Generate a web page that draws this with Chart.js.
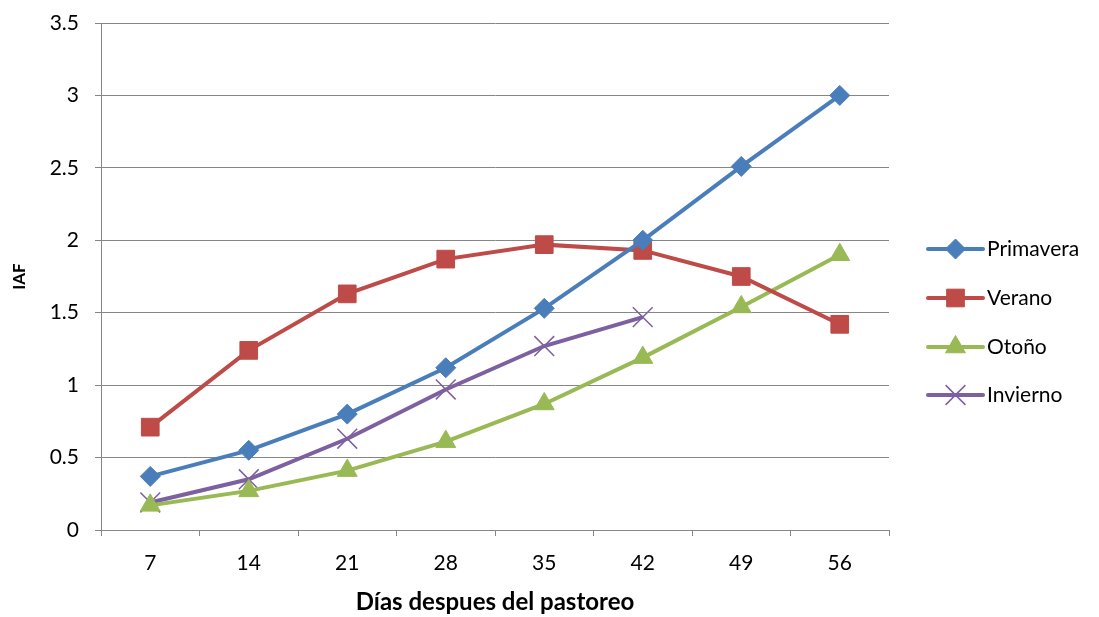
<!DOCTYPE html>
<html>
<head>
<meta charset="utf-8">
<script src="https://cdn.jsdelivr.net/npm/chart.js@4.4.0/dist/chart.umd.min.js"></script>
<style>
html,body{margin:0;padding:0;background:#fff;}
#wrap{width:1099px;height:617px;position:relative;}
</style>
</head>
<body>
<div id="wrap"><canvas id="c" width="1099" height="617"></canvas></div>
<script>
const categories = ['7','14','21','28','35','42','49','56'];
const primavera = [0.37, 0.55, 0.80, 1.12, 1.53, 2.00, 2.51, 3.00];
const verano = [0.71, 1.24, 1.63, 1.87, 1.97, 1.93, 1.75, 1.42];
const otono = [0.17, 0.27, 0.41, 0.61, 0.87, 1.19, 1.54, 1.90];
const invierno = [0.19, 0.35, 0.63, 0.97, 1.27, 1.47, null, null];
const seriesNames = ['Primavera','Verano','Otoño','Invierno'];
const yTicks = [0, 0.5, 1, 1.5, 2, 2.5, 3, 3.5];

const FONT = 'Lato, "Open Sans", sans-serif';
const colors = ['#4A7EBB', '#BE4B48', '#98B954', '#7D60A0'];
const styles = ['rectRot', 'rect', 'triangle', 'crossRot'];
const radii = [10, 12.5, 11.5, 14];
const data = [primavera, verano, otono, invierno];

const datasets = data.map((d, i) => ({
  label: seriesNames[i],
  data: d,
  borderColor: colors[i],
  backgroundColor: colors[i],
  borderWidth: 4,
  pointStyle: styles[i],
  pointRadius: radii[i],
  pointBorderWidth: i === 3 ? 1.5 : 1,
  pointBorderColor: colors[i],
  pointBackgroundColor: colors[i],
  tension: 0,
  spanGaps: false
}));

const legendPlugin = {
  id: 'sideLegend',
  afterDraw(chart) {
    const ctx = chart.ctx;
    const x0 = 928, x1 = 983, ys = [249, 298, 347, 395];
    ctx.save();
    chart.data.datasets.forEach((ds, i) => {
      const y = ys[i];
      ctx.strokeStyle = ds.borderColor;
      ctx.lineWidth = 4;
      ctx.lineCap = 'round';
      ctx.beginPath(); ctx.moveTo(x0, y); ctx.lineTo(x1, y); ctx.stroke();
      ctx.lineCap = 'butt';
      ctx.fillStyle = ds.backgroundColor;
      ctx.strokeStyle = ds.borderColor;
      ctx.lineWidth = ds.pointBorderWidth;
      Chart.helpers.drawPoint(ctx, {pointStyle: ds.pointStyle, rotation: 0, radius: ds.pointRadius, borderWidth: ds.pointBorderWidth}, (x0 + x1) / 2, y);
      ctx.fillStyle = '#000';
      ctx.font = '21px ' + FONT;
      ctx.textBaseline = 'middle';
      ctx.textAlign = 'left';
      ctx.fillText(ds.label, 987, y);
    });
    ctx.restore();
  }
};

new Chart(document.getElementById('c'), {
  type: 'line',
  data: { labels: categories, datasets },
  options: {
    responsive: false,
    animation: false,
    layout: { padding: { top: 23, right: 210, left: 0, bottom: 0 } },
    plugins: { legend: { display: false }, tooltip: { enabled: false } },
    scales: {
      x: {
        offset: true,
        grid: { display: true, drawOnChartArea: false, offset: true, drawTicks: true, tickLength: 6, color: '#868686', lineWidth: 1 },
        border: { display: true, color: '#868686', width: 1 },
        ticks: { color: '#000', font: { family: FONT, size: 21 }, padding: 15, maxRotation: 0 },
        title: { display: true, text: 'Días despues del pastoreo', color: '#000', font: { family: FONT, size: 24, weight: 'bold' }, padding: { top: 0, bottom: 0 } },
        afterFit(scale) { scale.height = 87; }
      },
      y: {
        min: 0, max: 3.5,
        afterBuildTicks(scale) { scale.ticks = yTicks.map(v => ({ value: v })); },
        grid: { color: '#868686', lineWidth: 1, drawTicks: true, tickLength: 6 },
        border: { display: true, color: '#868686', width: 1 },
        ticks: { color: '#000', font: { family: FONT, size: 21 }, padding: 16, callback: v => String(v) },
        title: { display: true, text: 'IAF', color: '#000', font: { family: FONT, size: 17, weight: 'bold' }, padding: { top: 9, bottom: 0 } },
        afterFit(scale) { scale.width = 101; scale.paddingTop = 0; scale.paddingBottom = 0; }
      }
    }
  },
  plugins: [legendPlugin]
});
</script>
</body>
</html>
